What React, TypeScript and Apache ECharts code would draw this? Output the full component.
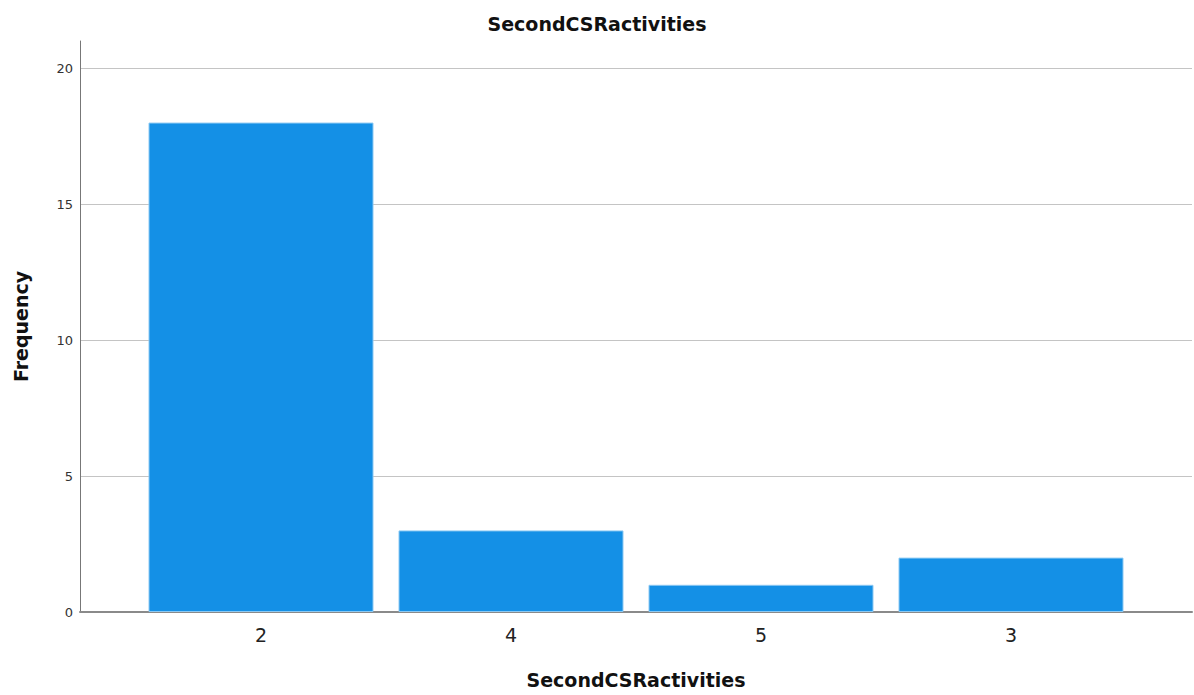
import React, { useEffect, useRef } from "react";
import * as echarts from "echarts";

const categories = ["2", "4", "5", "3"];
const frequencies = [18, 3, 1, 2];
const yTicks = { min: 0, max: 21, interval: 5 };
const titleText = "SecondCSRactivities";
const xTitle = "SecondCSRactivities";
const yTitle = "Frequency";

const FONT = "'DejaVu Sans', sans-serif";

export default function App() {
  const ref = useRef<HTMLDivElement>(null);
  useEffect(() => {
    if (!ref.current) return;
    const chart = echarts.init(ref.current, null, { renderer: "svg" });
    const top = 41;
    const bottom = 83;
    chart.setOption({
      animation: false,
      backgroundColor: "#ffffff",
      title: {
        text: titleText,
        left: "center",
        top: 9,
        textStyle: { fontFamily: FONT, fontSize: 19, fontWeight: "bold", color: "#111" },
      },
      grid: [
        { left: 80, right: 2, top, bottom, containLabel: false, outerBoundsMode: "none" },
        { left: 136, right: 58, top, bottom, containLabel: false, outerBoundsMode: "none" },
      ],
      xAxis: [
        {
          type: "value",
          gridIndex: 0,
          min: 0,
          max: 1,
          axisLine: { show: true, lineStyle: { color: "#8a8a8a", width: 2 } },
          axisTick: { show: false },
          axisLabel: { show: false },
          splitLine: { show: false },
          name: xTitle,
          nameLocation: "middle",
          nameGap: 58,
          nameTextStyle: { fontFamily: FONT, fontSize: 19, fontWeight: "bold", color: "#111" },
        },
        {
          type: "category",
          gridIndex: 1,
          data: categories,
          axisLine: { show: false },
          axisTick: { show: false },
          axisLabel: { fontFamily: FONT, fontSize: 19, color: "#222", margin: 13 },
          splitLine: { show: false },
        },
      ],
      yAxis: [
        {
          type: "value",
          gridIndex: 0,
          min: yTicks.min,
          max: yTicks.max,
          interval: yTicks.interval,
          axisLine: { show: true, lineStyle: { color: "#777", width: 1 } },
          axisTick: { show: false },
          axisLabel: {
            fontFamily: FONT,
            fontSize: 13,
            color: "#333",
            margin: 7,
            showMaxLabel: false,
          },
          splitLine: { show: true, showMaxLine: false, lineStyle: { color: "#c4c4c4", width: 1 } },
          name: yTitle,
          nameLocation: "middle",
          nameGap: 50,
          nameRotate: 90,
          nameTextStyle: { fontFamily: FONT, fontSize: 19, fontWeight: "bold", color: "#111" },
        },
        {
          type: "value",
          gridIndex: 1,
          min: yTicks.min,
          max: yTicks.max,
          interval: yTicks.interval,
          show: false,
          splitLine: { show: false },
        },
      ],
      series: [
        {
          type: "bar",
          xAxisIndex: 1,
          yAxisIndex: 1,
          data: frequencies,
          barCategoryGap: "10%",
          itemStyle: { color: "#1490e6", borderColor: "#8cc9f3", borderWidth: 1 },
        },
      ],
    });
    return () => chart.dispose();
  }, []);
  return <div ref={ref} style={{ width: 1194, height: 695, position: "absolute", left: 0, top: 0 }} />;
}
